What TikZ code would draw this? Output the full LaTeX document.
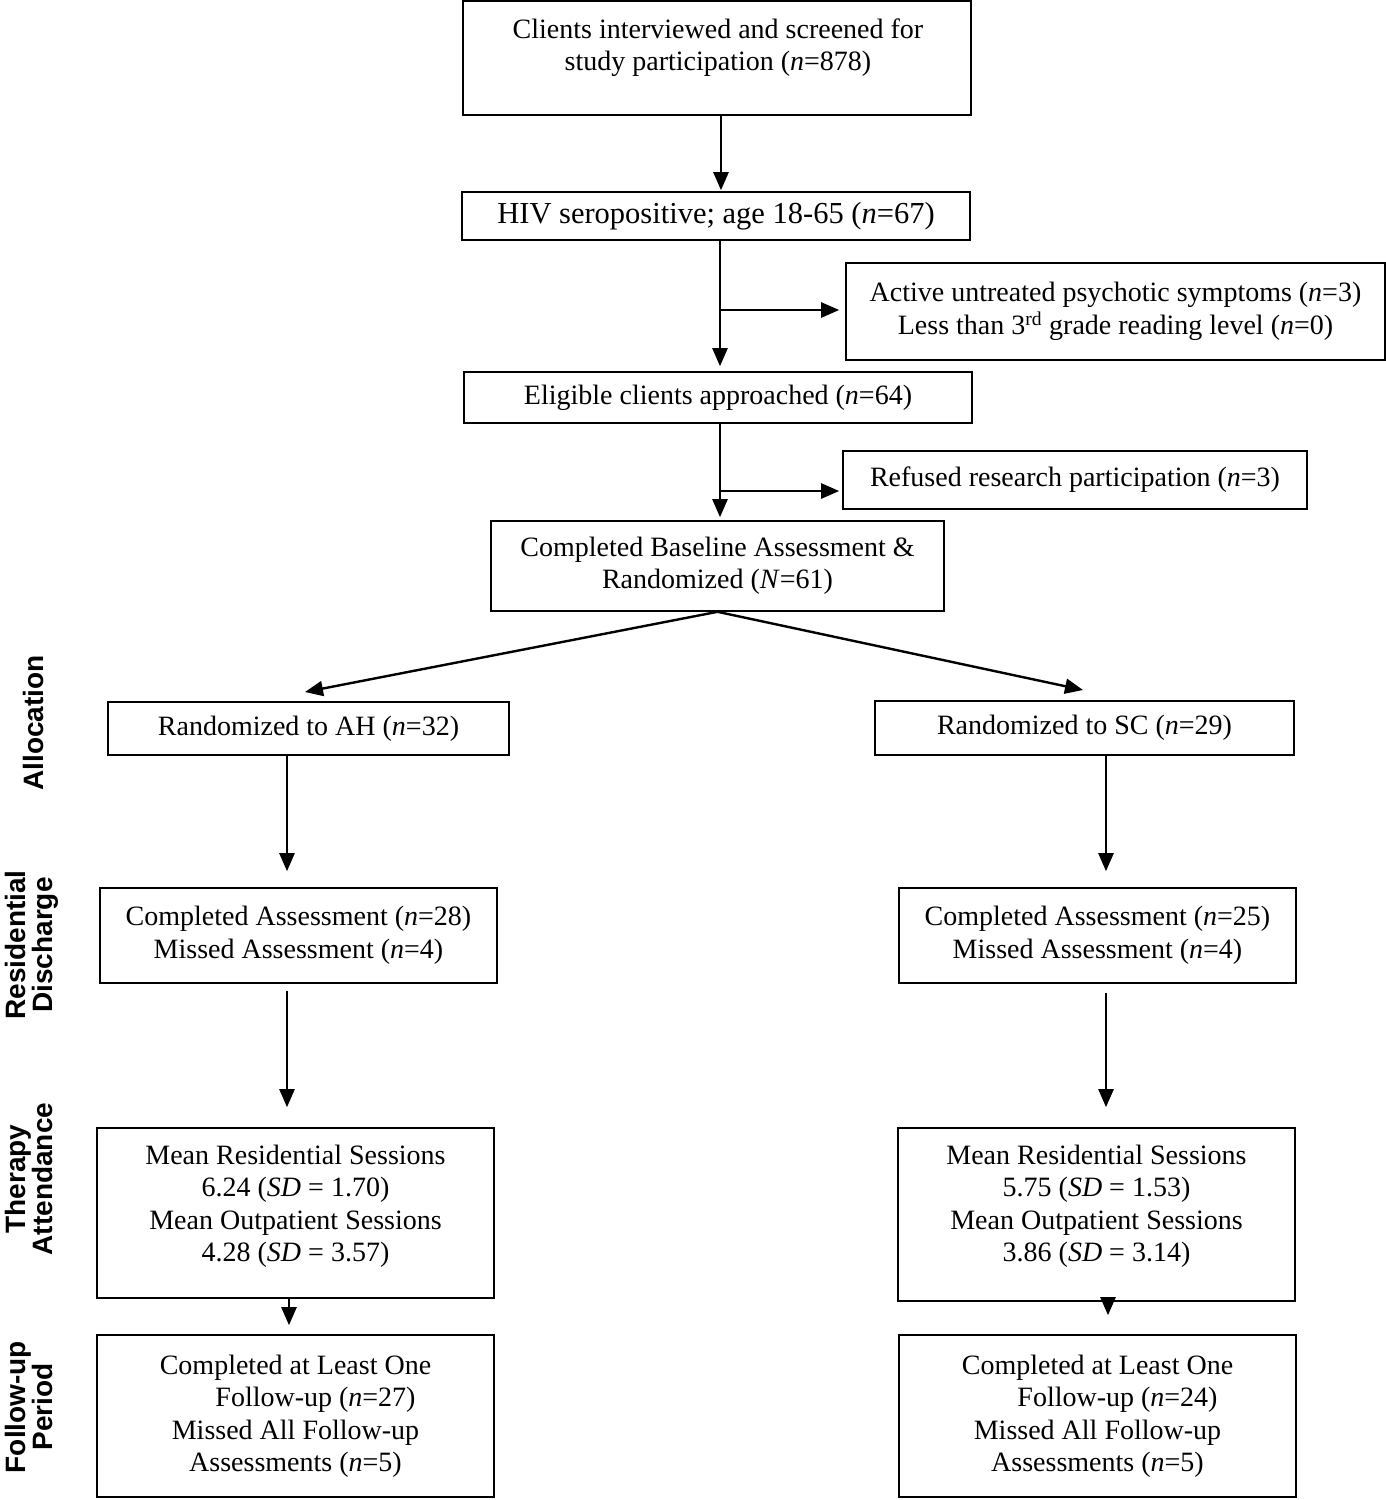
\documentclass[tikz,border=0pt]{standalone}
\usepackage{fontspec}
\setmainfont{Liberation Serif}
\newfontfamily\labelfont{Liberation Sans}
\usetikzlibrary{arrows.meta}
\begin{document}
\begin{tikzpicture}[x=1pt,y=-1pt,
  box/.style={draw, line width=1.6pt, inner sep=0pt, align=center, font=\fontsize{28}{32.5}\selectfont},
  txt/.style={inner sep=0pt, align=center, font=\fontsize{28}{32.5}\selectfont},
  arr/.style={line width=2.4pt, -{Triangle[length=18pt,width=15pt]}},
  side/.style={rotate=90, inner sep=0pt, align=center, font=\labelfont\bfseries\fontsize{28}{27}\selectfont}]
\useasboundingbox (0,0) rectangle (1386,1500);

% boxes
\node[box, minimum width=508pt, minimum height=114pt] (n1) at (717,58) {};
\node[txt] (n1t) at (718,47.5) {Clients interviewed and screened for\\ study participation (\textit{n}=878)};
\node[box, minimum width=508pt, minimum height=48pt, font=\fontsize{30.5}{33}\selectfont] (hiv) at (716,216) {HIV seropositive; age 18-65 (\textit{n}=67)};
\node[box, minimum width=539pt, minimum height=97pt] (excl) at (1115.5,311.5) {Active untreated psychotic symptoms (\textit{n}=3)\\ Less than 3\textsuperscript{rd} grade reading level (\textit{n}=0)};
\node[box, minimum width=508pt, minimum height=51pt] (elig) at (718,397.5) {Eligible clients approached (\textit{n}=64)};
\node[box, minimum width=464pt, minimum height=58pt] (ref) at (1075,480) {Refused research participation (\textit{n}=3)};
\node[box, minimum width=453pt, minimum height=90pt] (base) at (717.5,566) {Completed Baseline Assessment \&\\ Randomized (\textit{N}=61)};
\node[box, minimum width=401pt, minimum height=53pt] (ah) at (308.5,728.5) {Randomized to AH (\textit{n}=32)};
\node[box, minimum width=419pt, minimum height=54pt] (sc) at (1084.5,728) {Randomized to SC (\textit{n}=29)};
\node[box, minimum width=397pt, minimum height=95pt] (rdah) at (298.5,935.5) {Completed Assessment (\textit{n}=28)\\ Missed Assessment (\textit{n}=4)};
\node[box, minimum width=397pt, minimum height=95pt] (rdsc) at (1097.5,935.5) {Completed Assessment (\textit{n}=25)\\ Missed Assessment (\textit{n}=4)};
\node[box, minimum width=397pt, minimum height=170pt] (taah) at (295.5,1213) {};
\node[txt] (taaht) at (295.5,1206) {Mean Residential Sessions\\ 6.24 (\textit{SD} = 1.70)\\ Mean Outpatient Sessions\\ 4.28 (\textit{SD} = 3.57)};
\node[box, minimum width=397pt, minimum height=173pt] (tasc) at (1096.5,1214.5) {};
\node[txt] (tasct) at (1096.5,1206) {Mean Residential Sessions\\ 5.75 (\textit{SD} = 1.53)\\ Mean Outpatient Sessions\\ 3.86 (\textit{SD} = 3.14)};
\node[box, minimum width=397pt, minimum height=162pt] (fuah) at (295.5,1416) {Completed at Least One\\ \hspace*{40pt}Follow-up (\textit{n}=27)\\ Missed All Follow-up\\ Assessments (\textit{n}=5)};
\node[box, minimum width=397pt, minimum height=162pt] (fusc) at (1097.5,1416) {Completed at Least One\\ \hspace*{40pt}Follow-up (\textit{n}=24)\\ Missed All Follow-up\\ Assessments (\textit{n}=5)};

% side labels
\node[side] (lab1) at (33,723) {Allocation};
\node[side] (lab2) at (32,945) {Residential\\ Discharge};
\node[side] (lab3) at (29,1179) {Therapy\\ Attendance};
\node[side] (lab4) at (29,1407) {Follow-up\\ Period};

% helper x coordinates
\coordinate (xc) at (721,0);
\coordinate (xm) at (720,0);
\coordinate (xl) at (287,0);
\coordinate (xl2) at (289,0);
\coordinate (xr) at (1106,0);
\coordinate (xr2) at (1108,0);
\coordinate (b1) at (721,310);
\coordinate (b2) at (720,491);
\coordinate (ahtip) at (305,692);
\coordinate (sctip) at (1083,690);

% connectors
\draw[arr, shorten >=1pt] (n1.south -| xc) -- (hiv.north -| xc);
\draw[arr, shorten >=5pt] (hiv.south -| xm) -- (elig.north -| xm);
\draw[arr, shorten >=6pt] (b1) -- (b1 -| excl.west);
\draw[arr, shorten >=3pt] (elig.south -| xm) -- (base.north -| xm);
\draw[arr, shorten >=3pt] (b2) -- (b2 -| ref.west);
\draw[arr] (base.south) -- (ahtip);
\draw[arr] (base.south) -- (sctip);
\draw[arr, shorten >=16pt] (ah.south -| xl) -- (rdah.north -| xl);
\draw[arr, shorten >=16pt] (sc.south -| xr) -- (rdsc.north -| xr);
\draw[arr, shorten <=7pt, shorten >=20pt] (rdah.south -| xl) -- (taah.north -| xl);
\draw[arr, shorten <=9pt, shorten >=20pt] (rdsc.south -| xr) -- (tasc.north -| xr);
\draw[arr, shorten >=9pt] (taah.south -| xl2) -- (fuah.north -| xl2);
\draw[arr, shorten >=19pt] (tasc.south -| xr2) -- (fusc.north -| xr2);
\end{tikzpicture}
\end{document}
